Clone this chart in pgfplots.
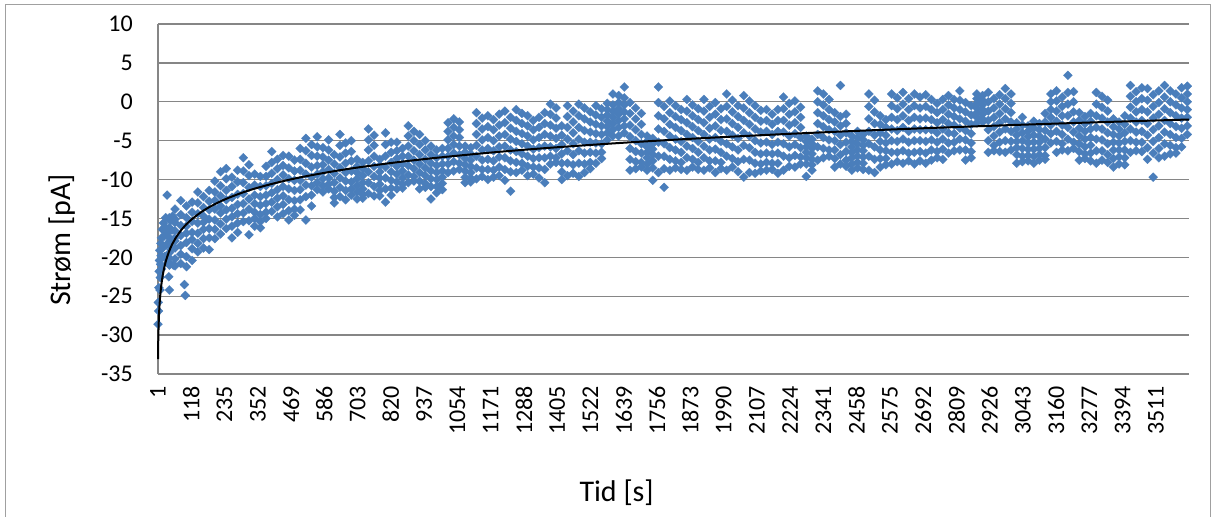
\documentclass[border=0pt]{standalone}
\usepackage{fontspec}
\setmainfont{Carlito}
\usepackage{pgfplots}
\usepackage{pgfplotstable}
\pgfplotsset{compat=1.18}
\definecolor{xlblue}{RGB}{74,126,187}
\definecolor{gridgray}{RGB}{134,134,134}
\definecolor{bordergray}{RGB}{160,160,160}

\pgfplotstableread{
x y1 y2 y3 y4 y5 y6 y7
41 -14.9 -16.2 -17.5 -18.3 -19.4 -20.1 -21.0
61 -13.8 -15.1 -16.6 -17.9 -18.8 -20.2 -21.1
81 -12.7 -14.5 -15.9 -17.2 -18.5 -19.6 -20.8
101 -13.4 -14.9 -16.0 -16.9 -18.1 -19.9 -21.2
121 -12.9 -14.2 -15.4 -16.8 -17.7 -18.9 -20.4
141 -11.6 -13.0 -14.4 -15.6 -16.9 -18.2 -19.3
161 -12.2 -13.6 -14.7 -15.5 -16.4 -17.6 -18.8
181 -11.4 -12.8 -13.9 -15.1 -16.3 -17.5 -19.0
201 -10.2 -11.6 -12.7 -13.8 -15.2 -16.4 -17.6
221 -9.0 -10.8 -12.1 -13.4 -14.3 -15.7 -17.0
241 -8.6 -9.9 -11.4 -12.6 -13.9 -15.1 -16.3
261 -9.7 -10.9 -12.3 -13.7 -14.8 -16.0 -17.5
281 -8.8 -10.3 -11.9 -13.2 -14.4 -15.6 -16.8
301 -7.2 -8.9 -10.4 -11.8 -13.1 -14.3 -15.4
321 -8.1 -9.5 -11.0 -12.5 -13.8 -15.3 -17.1
341 -9.3 -10.7 -12.0 -13.1 -14.2 -15.0 -16.0
361 -9.6 -10.9 -12.2 -13.3 -14.5 -15.4 -16.2
381 -8.3 -9.6 -10.8 -12.0 -13.1 -14.2 -15.0
401 -6.4 -7.8 -9.2 -10.5 -11.7 -12.9 -14.1
421 -7.4 -8.6 -10.0 -11.3 -12.4 -13.5 -14.8
441 -6.9 -8.2 -9.4 -10.9 -12.1 -13.2 -14.4
461 -7.0 -8.5 -9.9 -11.2 -12.6 -14.0 -15.2
481 -7.5 -8.9 -10.1 -11.4 -12.7 -13.8 -14.6
501 -6.0 -7.4 -8.8 -10.1 -11.3 -12.6 -13.9
521 -4.7 -6.3 -7.9 -9.3 -10.7 -12.2 -15.2
541 -5.5 -6.9 -8.4 -9.7 -10.8 -12.0 -13.4
561 -4.5 -5.8 -7.0 -8.2 -9.3 -10.4 -11.3
581 -5.9 -7.1 -8.1 -9.0 -9.9 -10.8 -11.6
601 -4.9 -6.2 -7.5 -8.7 -9.8 -10.6 -11.2
621 -6.8 -8.0 -9.2 -10.4 -11.5 -12.3 -13.0
641 -4.2 -5.6 -7.1 -8.5 -9.8 -11.0 -12.2
661 -5.3 -6.6 -7.9 -9.1 -10.2 -11.4 -12.6
681 -5.0 -6.4 -7.6 -8.9 -10.3 -11.2 -12.0
701 -7.4 -8.3 -9.1 -9.9 -10.8 -11.6 -12.5
721 -7.8 -8.6 -9.5 -10.4 -11.2 -11.9 -12.4
741 -3.5 -4.9 -6.2 -7.6 -9.0 -10.4 -11.8
761 -4.3 -5.6 -7.0 -8.3 -9.6 -10.9 -12.1
781 -7.4 -8.2 -9.0 -9.8 -10.6 -11.4 -12.1
801 -4.0 -5.5 -7.0 -8.4 -9.8 -11.2 -12.9
821 -5.2 -6.5 -7.8 -9.0 -10.1 -11.1 -12.0
841 -5.2 -6.3 -7.3 -8.3 -9.3 -10.3 -11.2
861 -6.0 -7.0 -8.0 -8.9 -9.8 -10.6 -11.1
881 -3.1 -4.4 -5.7 -7.0 -8.2 -9.4 -10.4
901 -3.8 -5.0 -6.3 -7.5 -8.6 -9.6 -10.2
921 -4.2 -5.5 -6.8 -8.0 -9.1 -10.2 -11.2
941 -5.0 -6.2 -7.4 -8.5 -9.5 -10.5 -11.0
961 -5.7 -6.8 -7.9 -8.9 -9.9 -10.9 -12.5
981 -6.2 -7.2 -8.2 -9.1 -10.0 -10.9 -11.7
1001 -6.0 -7.0 -8.0 -8.9 -9.7 -10.5 -11.3
1021 -2.7 -3.8 -4.9 -6.0 -7.0 -8.0 -9.1
1041 -2.2 -3.3 -4.4 -5.5 -6.6 -7.7 -8.9
1061 -2.6 -3.6 -4.6 -5.7 -6.8 -7.9 -8.7
1081 -5.7 -6.5 -7.3 -8.1 -8.9 -9.7 -10.4
1101 -5.9 -6.7 -7.5 -8.3 -9.1 -9.8 -10.3
1121 -1.4 -2.8 -4.2 -5.6 -7.0 -8.5 -9.9
1141 -2.1 -3.5 -4.9 -6.2 -7.5 -8.7 -9.6
1161 -1.8 -3.2 -4.6 -6.0 -7.4 -8.7 -10.0
1181 -2.3 -3.6 -5.0 -6.3 -7.6 -8.8 -9.7
1201 -1.6 -3.0 -4.4 -5.8 -7.1 -8.4 -9.5
1221 -1.2 -2.7 -4.2 -5.7 -7.2 -8.7 -10.1
1241 -2.0 -3.4 -4.8 -6.2 -7.6 -9.0 -11.5
1261 -1.0 -2.4 -3.8 -5.1 -6.4 -7.8 -9.1
1281 -1.5 -2.8 -4.1 -5.4 -6.7 -7.9 -8.8
1301 -1.8 -3.1 -4.4 -5.7 -7.0 -8.3 -9.5
1321 -2.4 -3.6 -4.9 -6.1 -7.3 -8.4 -9.3
1341 -2.0 -3.3 -4.6 -5.9 -7.2 -8.5 -9.8
1361 -1.4 -2.8 -4.2 -5.7 -7.2 -8.7 -10.4
1381 -0.3 -1.6 -3.0 -4.4 -5.8 -7.0 -8.0
1401 -0.8 -2.1 -3.4 -4.7 -6.0 -7.2 -7.8
1421 -3.1 -4.3 -5.5 -6.7 -7.9 -9.0 -10.0
1441 -0.5 -1.9 -3.3 -4.8 -6.3 -7.9 -9.5
1461 -1.2 -2.6 -4.0 -5.4 -6.8 -8.1 -9.2
1481 -0.3 -1.8 -3.3 -4.8 -6.3 -7.9 -9.6
1501 -0.8 -2.2 -3.7 -5.2 -6.6 -8.0 -9.1
1521 -1.3 -2.6 -3.9 -5.2 -6.5 -7.8 -8.6
1541 -0.5 -1.7 -2.9 -4.1 -5.3 -6.6 -7.9
1561 -0.9 -2.0 -3.1 -4.2 -5.4 -6.5 -7.3
1581 -0.2 -1.0 -1.7 -2.5 -3.2 -4.0 -4.9
1601 1.0 -0.4 -1.2 -2.0 -2.8 -3.6 -4.4
1621 0.8 -0.1 -0.9 -1.6 -2.4 -3.3 -4.4
1641 1.9 0.5 -0.4 -1.3 -2.2 -3.1 -4.0
1661 -0.1 -1.5 -3.0 -4.5 -6.0 -7.4 -8.8
1681 -0.8 -2.2 -3.6 -5.0 -6.4 -7.7 -8.6
1701 -1.5 -2.9 -4.2 -5.4 -6.6 -7.8 -8.4
1721 -4.4 -5.1 -5.8 -6.5 -7.2 -8.0 -8.8
1741 -4.7 -5.4 -6.1 -6.8 -7.6 -8.5 -10.1
1761 1.9 -0.1 -1.8 -3.5 -5.2 -7.0 -9.1
1781 -0.6 -2.2 -3.8 -5.4 -7.0 -8.6 -11.0
1801 0.1 -1.4 -2.9 -4.4 -5.9 -7.4 -8.8
1821 -0.5 -1.9 -3.3 -4.8 -6.2 -7.6 -8.5
1841 -1.0 -2.3 -3.7 -5.1 -6.5 -7.8 -8.7
1861 0.3 -1.2 -2.7 -4.2 -5.7 -7.2 -8.8
1881 -0.4 -1.8 -3.2 -4.6 -6.0 -7.4 -8.4
1901 -0.9 -2.3 -3.7 -5.1 -6.5 -7.8 -8.7
1921 0.3 -1.2 -2.7 -4.2 -5.7 -7.2 -8.8
1941 -0.6 -2.0 -3.4 -4.8 -6.2 -7.6 -8.5
1961 -0.1 -1.6 -3.1 -4.6 -6.1 -7.6 -9.1
1981 -0.9 -2.3 -3.7 -5.1 -6.5 -7.8 -8.6
2001 1.0 -0.6 -2.2 -3.8 -5.4 -7.0 -8.8
2021 0.2 -1.3 -2.8 -4.3 -5.8 -7.3 -8.4
2041 -0.5 -1.9 -3.3 -4.7 -6.2 -7.7 -9.0
2061 0.8 -0.8 -2.4 -4.0 -5.6 -7.4 -9.7
2081 0.1 -1.4 -2.9 -4.4 -5.9 -7.5 -9.1
2101 -0.5 -2.0 -3.5 -5.0 -6.5 -7.9 -9.2
2121 -1.1 -2.5 -3.9 -5.3 -6.7 -8.0 -8.9
2141 -1.0 -2.4 -3.8 -5.2 -6.6 -7.8 -8.8
2161 -1.6 -2.9 -4.2 -5.5 -6.7 -7.9 -8.7
2181 -1.0 -2.4 -3.8 -5.2 -6.6 -7.9 -9.2
2201 0.6 -0.9 -2.4 -3.9 -5.4 -7.0 -8.8
2221 -0.2 -1.6 -3.0 -4.4 -5.8 -7.2 -8.3
2241 0.1 -1.3 -2.7 -4.1 -5.5 -6.9 -8.4
2261 -0.7 -2.0 -3.3 -4.6 -5.9 -7.1 -8.0
2281 -4.4 -5.1 -5.8 -6.5 -7.2 -8.0 -9.6
2301 -4.8 -5.4 -6.0 -6.7 -7.4 -8.1 -8.8
2321 1.4 0.0 -1.4 -2.8 -4.2 -5.8 -7.5
2341 1.0 -0.4 -1.8 -3.2 -4.6 -6.0 -7.2
2361 0.3 -1.0 -2.3 -3.6 -4.9 -6.2 -7.0
2381 -1.4 -2.6 -3.8 -5.0 -6.2 -7.3 -8.4
2401 2.1 -1.9 -3.1 -4.3 -5.5 -6.8 -8.0
2421 -1.6 -2.8 -4.0 -5.2 -6.4 -7.5 -8.3
2441 -4.4 -5.1 -5.8 -6.5 -7.2 -8.0 -8.8
2461 -3.8 -4.6 -5.4 -6.2 -7.0 -7.8 -8.5
2481 -4.2 -4.9 -5.6 -6.3 -7.1 -7.9 -8.7
2501 1.0 -0.6 -2.2 -3.8 -5.4 -7.0 -8.8
2521 0.2 -1.3 -2.8 -4.3 -5.8 -7.4 -9.1
2541 -1.8 -2.9 -4.0 -5.1 -6.2 -7.3 -8.4
2561 -2.3 -3.3 -4.3 -5.3 -6.3 -7.3 -8.1
2581 1.0 -0.5 -2.0 -3.5 -5.0 -6.5 -8.0
2601 0.5 -0.9 -2.3 -3.7 -5.1 -6.5 -7.7
2621 1.2 -0.3 -1.8 -3.3 -4.8 -6.3 -7.9
2641 0.4 -1.0 -2.4 -3.8 -5.2 -6.6 -7.6
2661 1.0 -0.5 -2.0 -3.5 -5.0 -6.5 -8.0
2681 0.6 -0.8 -2.2 -3.6 -5.0 -6.4 -7.6
2701 0.9 -0.6 -2.1 -3.6 -5.1 -6.6 -7.9
2721 0.3 -1.0 -2.3 -3.6 -4.9 -6.2 -7.5
2741 -0.2 -1.4 -2.7 -4.0 -5.2 -6.4 -7.2
2761 0.3 -1.0 -2.3 -3.5 -4.8 -6.1 -7.4
2781 0.8 -0.4 -1.6 -2.8 -4.0 -5.3 -6.6
2801 0.3 -0.8 -1.9 -3.0 -4.1 -5.2 -6.3
2821 1.4 0.2 -1.0 -2.2 -3.4 -4.8 -6.2
2841 -0.1 -1.3 -2.5 -3.7 -4.9 -6.2 -7.5
2861 -0.5 -1.7 -2.9 -4.1 -5.3 -6.4 -7.2
2881 1.0 0.4 -0.2 -0.8 -1.4 -2.0 -2.7
2901 0.8 0.2 -0.4 -1.0 -1.6 -2.2 -2.6
2921 1.2 0.0 -1.2 -2.4 -3.6 -5.0 -6.5
2941 0.4 -0.8 -2.0 -3.2 -4.4 -5.6 -6.3
2961 0.9 -0.3 -1.5 -2.7 -3.9 -5.2 -6.4
2981 1.7 0.4 -0.9 -2.2 -3.5 -5.0 -6.5
3001 1.0 -0.2 -1.4 -2.6 -3.8 -5.1 -6.2
3021 -2.7 -3.5 -4.3 -5.1 -5.9 -6.8 -7.9
3041 -2.0 -3.0 -4.0 -5.0 -6.0 -7.0 -7.7
3061 -3.1 -3.8 -4.5 -5.3 -6.1 -6.9 -7.6
3081 -2.5 -3.4 -4.3 -5.2 -6.1 -7.0 -7.9
3101 -2.8 -3.6 -4.4 -5.2 -6.0 -6.8 -7.5
3121 -1.5 -2.6 -3.7 -4.8 -5.9 -6.9 -7.4
3141 1.0 0.0 -1.0 -2.0 -3.0 -4.1 -5.3
3161 1.4 0.1 -1.2 -2.5 -3.8 -5.1 -6.5
3181 0.6 -0.6 -1.8 -3.0 -4.2 -5.4 -6.2
3201 3.4 1.2 -0.3 -1.8 -3.3 -4.8 -6.3
3221 1.3 0.0 -1.3 -2.6 -3.9 -5.2 -6.0
3241 -1.4 -2.4 -3.4 -4.4 -5.4 -6.4 -7.5
3261 -1.9 -2.8 -3.8 -4.8 -5.8 -6.7 -7.3
3281 -1.5 -2.5 -3.5 -4.6 -5.6 -6.6 -7.6
3301 1.2 -0.3 -1.8 -3.3 -4.8 -6.3 -7.9
3321 0.7 -0.7 -2.1 -3.5 -4.9 -6.3 -7.5
3341 0.2 -1.2 -2.6 -4.0 -5.4 -6.8 -7.8
3361 -2.2 -3.2 -4.2 -5.2 -6.2 -7.3 -8.4
3381 -2.6 -3.5 -4.4 -5.3 -6.2 -7.1 -8.0
3401 -1.8 -2.9 -4.0 -5.1 -6.2 -7.2 -8.1
3421 2.1 0.7 -0.7 -2.1 -3.5 -5.0 -6.5
3441 1.3 0.0 -1.3 -2.6 -3.9 -5.2 -6.3
3461 1.8 0.4 -1.0 -2.4 -3.8 -5.2 -6.4
3481 1.7 0.2 -1.3 -2.8 -4.3 -5.9 -7.4
3501 0.9 -0.6 -2.1 -3.6 -5.1 -6.6 -9.7
3521 1.4 -0.1 -1.6 -3.1 -4.6 -6.0 -7.2
3541 2.1 0.6 -0.9 -2.4 -3.9 -5.4 -7.0
3561 1.4 0.0 -1.4 -2.8 -4.2 -5.6 -6.7
3581 1.0 -0.4 -1.8 -3.2 -4.6 -5.9 -6.6
3601 1.8 0.5 -0.8 -2.1 -3.4 -4.7 -5.8
3621 2.0 1.0 0.0 -1.0 -2.0 -3.1 -4.2
}\scatterdata

\pgfplotsset{
  pts/.style={only marks, mark=square*, mark size=3.2bp,
    mark options={rotate=45, fill=xlblue, draw=xlblue, line width=0.2bp}},
}

\begin{document}
\begin{tikzpicture}[x=1bp,y=1bp]
\path[use as bounding box] (0,0) rectangle (1215,517);
\draw[bordergray, line width=1bp] (5,-2) -- (5,512) -- (1210,512) -- (1210,-2);
\begin{axis}[
  at={(158bp,143bp)}, anchor=south west,
  scale only axis, width=1031bp, height=350bp,
  xmin=1, xmax=3627, ymin=-35, ymax=10,
  clip=false, clip marker paths=true,
  axis lines*=left,
  axis line style={gridgray, line width=1.3bp},
  ymajorgrids,
  grid style={gridgray, line width=1.3bp},
  major tick length=0pt,
  ytick={-35,-30,...,10},
  yticklabels={-35,-30,-25,-20,-15,-10,-5,0,5,10},
  xtick={1,118,...,3511},
  xticklabels={1,118,235,352,469,586,703,820,937,1054,1171,1288,1405,1522,1639,1756,1873,1990,2107,2224,2341,2458,2575,2692,2809,2926,3043,3160,3277,3394,3511},
  tick label style={font=\fontsize{24bp}{28bp}\selectfont, black},
  yticklabel style={anchor=east, inner sep=0pt, xshift=-25bp},
  xticklabel style={yshift=-12bp, rotate=90, anchor=east, inner sep=0pt},
  xlabel={Tid [s]},
  ylabel={Strøm [pA]},
  label style={font=\fontsize{30bp}{36bp}\selectfont},
  xlabel style={at={(axis description cs:0.4448,0)}, anchor=center, yshift=-119bp},
  ylabel style={at={(axis description cs:-0.093,0.383)}, anchor=center},
]
\addplot[pts] coordinates {
(1,-28.6) (2,-25.8) (3,-26.9) (4,-23.9) (5,-21.8) (6,-20.4) (7,-19.1)
(8,-24.2) (9,-22.6) (10,-20.9) (11,-18.2) (12,-19.8) (13,-17.5) (14,-21.5)
(16,-16.4) (18,-18.8) (20,-15.6) (22,-17.3) (24,-19.9) (26,-16.1) (28,-14.9)
(30,-18.4) (33,-12.0) (35,-16.8) (37,-20.6) (39,-22.5) (41,-24.2) (43,-17.9)
(45,-15.3) (48,-19.0) (50,-16.5) (53,-14.7) (55,-21.0) (58,-17.6) (60,-15.5)
(94,-23.5) (97,-24.9)
};
\addplot[pts] table[x=x, y=y1] {\scatterdata};
\addplot[pts] table[x=x, y=y2] {\scatterdata};
\addplot[pts] table[x=x, y=y3] {\scatterdata};
\addplot[pts] table[x=x, y=y4] {\scatterdata};
\addplot[pts] table[x=x, y=y5] {\scatterdata};
\addplot[pts] table[x=x, y=y6] {\scatterdata};
\addplot[pts] table[x=x, y=y7] {\scatterdata};
\addplot[black, line width=2bp, smooth, no marks] coordinates {
(1,-33.10) (1.5,-31.58) (2,-30.49) (3,-28.97) (4,-27.89) (5,-27.05) (6,-26.36)
(8,-25.28) (10,-24.44) (12,-23.76) (15,-22.92) (20,-21.84) (25,-21.00)
(30,-20.31) (40,-19.23) (50,-18.39) (65,-17.41) (80,-16.62) (100,-15.78)
(120,-15.10) (150,-14.26) (180,-13.57) (220,-12.82) (250,-12.34) (300,-11.65)
(350,-11.07) (420,-10.39) (500,-9.73) (600,-9.05) (700,-8.47) (850,-7.74)
(1000,-7.13) (1200,-6.44) (1400,-5.86) (1650,-5.24) (1900,-4.71) (2200,-4.16)
(2500,-3.68) (2800,-3.26) (3000,-3.00) (3300,-2.64) (3627,-2.28)
};
\end{axis}
\end{tikzpicture}
\end{document}
